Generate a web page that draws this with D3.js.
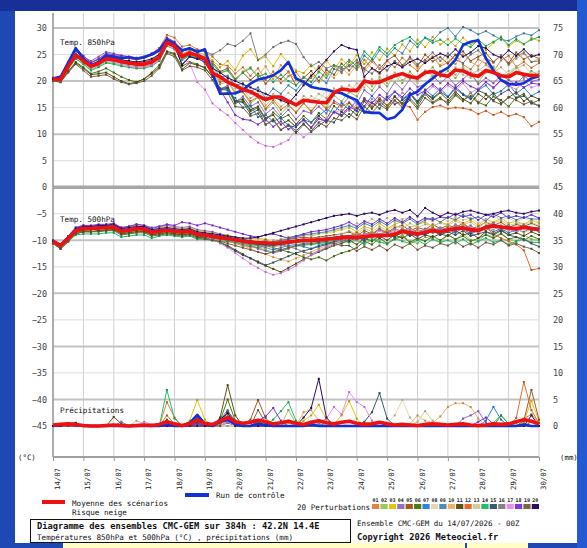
<!DOCTYPE html>
<html>
<head>
<meta charset="utf-8">
<script src="https://cdn.jsdelivr.net/npm/d3@7"></script>
<style>
  html, body { margin: 0; padding: 0; background: #1e48b4; }
  svg { display: block; }
  text { font-family: "DejaVu Sans Mono", monospace; }
</style>
</head>
<body>
<svg id="chart" width="587" height="548"></svg>
<script>
// ---- data (6-hourly steps, 0..384h) ----
const dayLabels = ["14/07","15/07","16/07","17/07","18/07","19/07","20/07","21/07","22/07",
                   "23/07","24/07","25/07","26/07","27/07","28/07","29/07","30/07"];
const leftTicks = [30,25,20,15,10,5,0,-5,-10,-15,-20,-25,-30,-35,-40,-45];
const rightTicks = [75,70,65,60,55,50,45,40,35,30,25,20,15,10,5,0];
const stepHours = d3.range(0, 385, 6);

const memberIds = ["01","02","03","04","05","06","07","08","09","10",
                   "11","12","13","14","15","16","17","18","19","20"];
const memberColors = ["#e0843c","#98c860","#e4c414","#9a6cc8","#a45a1c","#4e7c14","#2a84e0","#e2d9b2","#4a8eb8","#f0b468",
                      "#5a5418","#e46c2c","#d6ca96","#20c068","#3c5c6c","#848484","#e890f0","#8434e4","#7c6444","#2c0c64"];

const t850Mean = [
  20.4,20.3,22.8,24.9,23.8,22.8,23.3,24.2,24.0,23.7,23.4,23.2,23.2,
  23.6,24.5,27.3,26.6,24.6,25.3,24.8,24.2,21.5,20.8,19.8,19.2,18.4,
  18.0,17.2,16.5,17.0,17.0,16.2,15.5,16.4,16.2,16.0,15.9,17.8,18.5,
  18.3,18.2,20.0,19.7,19.8,20.4,21.0,21.4,20.8,20.6,21.6,21.8,21.2,
  20.9,22.1,21.9,21.2,20.9,22.0,21.6,21.0,20.8,21.6,21.3,21.0,21.1];
const t850Control = [
  20.5,20.8,23.5,26.2,24.2,23.0,23.6,24.8,24.6,24.3,24.5,24.2,24.5,
  25.0,25.8,27.8,27.0,25.8,26.2,25.5,26.0,21.5,17.6,17.6,17.7,18.3,
  19.5,20.3,20.6,21.1,22.0,23.6,20.5,19.8,18.9,18.6,18.4,18.0,17.7,
  17.0,16.4,14.2,14.0,14.0,12.8,13.2,14.6,17.4,18.0,19.4,20.5,21.7,
  22.5,24.0,26.8,27.4,27.7,24.3,22.0,20.2,19.5,19.3,19.6,20.5,20.9];
const t850Members = [
  [20.6,20.5,23.0,25.2,24.2,23.5,24.0,24.8,24.8,24.5,24.2,24.0,24.3,
   25.0,26.2,28.7,28.2,26.5,26.8,26.0,25.5,24.6,23.2,22.9,21.4,22.6,
   21.0,22.4,20.2,21.8,19.6,20.9,21.7,19.8,20.6,22.8,21.2,22.9,21.5,
   23.6,22.1,24.0,22.4,21.3,23.8,22.6,24.4,23.0,21.9,23.7,24.6,22.8,
   23.5,25.0,23.1,22.2,24.1,23.3,21.8,23.9,24.8,22.7,23.6,22.5,23.4],
  [20.2,20.0,22.2,24.2,23.2,22.2,22.8,23.6,23.4,23.0,22.6,22.4,22.5,
   23.0,24.0,26.8,26.0,24.0,24.8,24.3,23.6,21.8,19.4,19.9,17.6,17.9,
   15.8,16.9,14.6,15.9,13.8,15.3,14.2,15.9,14.1,16.2,15.0,17.3,16.2,
   18.0,17.1,19.6,18.2,20.3,19.0,21.1,19.6,21.8,20.2,21.4,22.6,20.8,
   21.9,20.6,22.4,21.0,19.8,21.7,22.6,20.9,21.3,22.8,20.6,21.9,21.0],
  [20.4,20.4,22.8,25.0,24.0,23.0,23.5,24.4,24.2,24.0,23.6,23.5,23.6,
   24.0,25.2,27.6,27.2,25.2,25.8,25.4,25.0,23.9,22.6,23.8,22.1,24.8,
   26.0,23.9,24.6,22.8,25.1,23.4,22.0,21.5,23.1,21.6,23.8,22.3,24.1,
   22.8,24.9,23.2,25.4,24.0,26.1,24.8,26.9,25.6,27.8,26.4,28.3,26.9,
   27.9,26.6,28.2,26.9,27.5,25.8,27.2,28.4,26.5,27.6,26.9,28.1,27.6],
  [20.5,20.8,23.4,25.8,24.6,23.8,24.6,25.5,25.2,24.8,24.6,24.3,24.6,
   25.2,26.0,27.6,27.0,25.0,25.4,24.8,23.2,21.6,18.4,19.2,16.0,17.1,
   15.2,16.0,13.8,14.9,13.2,14.6,12.8,14.4,13.9,15.2,13.9,16.3,15.4,
   17.0,15.8,18.3,17.2,18.9,17.6,19.8,18.4,20.3,18.9,19.4,21.0,19.6,
   20.8,19.2,20.4,21.6,19.4,20.6,19.6,21.1,20.2,19.3,21.0,19.9,20.3],
  [20.3,20.2,22.6,24.6,23.6,22.6,23.0,24.0,23.8,23.4,23.0,22.8,22.8,
   23.2,24.2,27.0,26.4,24.2,25.0,24.6,24.4,23.6,21.8,22.4,20.4,21.6,
   20.2,21.4,19.5,21.0,20.4,21.8,19.2,20.6,21.9,20.0,22.1,21.2,23.3,
   22.0,23.5,22.4,24.1,22.3,23.9,24.8,23.0,24.3,22.8,25.0,23.7,24.5,
   23.3,24.9,25.6,23.8,24.6,25.3,23.6,24.8,23.4,25.4,24.1,24.9,24.2],
  [20.0,19.8,21.8,23.6,22.6,21.4,21.8,22.4,21.6,20.8,20.2,19.8,20.4,
   21.4,22.6,25.4,25.0,22.8,23.6,23.2,22.4,20.8,18.2,18.6,15.8,16.3,
   14.3,15.0,12.6,14.1,12.9,13.6,11.9,13.4,12.2,14.0,12.8,15.3,14.2,
   15.9,14.3,16.8,15.0,16.2,14.9,17.2,15.6,16.8,15.2,17.6,16.0,16.9,
   15.6,17.3,16.2,17.8,16.0,15.4,17.1,16.4,15.2,16.9,17.6,15.8,16.4],
  [20.4,20.4,22.6,24.6,23.6,22.6,23.2,24.0,23.8,23.4,23.2,23.0,23.0,
   23.4,24.4,27.0,26.2,24.4,25.0,24.4,23.6,21.4,18.6,18.2,16.8,15.0,
   15.4,13.2,13.6,12.4,13.1,11.6,11.3,12.7,12.2,13.5,14.6,14.0,15.9,
   14.6,16.4,15.3,17.2,15.6,16.9,18.0,16.6,17.8,16.1,18.4,17.2,18.6,
   17.1,18.9,17.6,16.8,18.3,19.2,17.5,18.1,19.4,17.6,18.8,17.2,18.0],
  [20.3,20.2,22.6,24.8,23.8,22.8,23.2,24.0,23.8,23.6,23.2,23.0,23.0,
   23.4,24.2,26.8,26.2,24.4,25.0,24.6,24.0,22.6,20.6,20.2,18.6,19.0,
   17.6,18.2,16.4,17.6,16.2,17.8,16.6,15.8,17.2,16.4,18.2,17.6,19.0,
   17.8,19.6,18.8,20.4,19.2,21.0,19.8,21.4,20.2,19.6,21.8,20.6,21.9,
   21.0,22.6,21.2,20.6,22.3,21.6,22.8,21.0,21.9,22.7,21.3,20.8,21.4],
  [20.6,20.6,23.0,25.0,24.0,23.0,23.6,24.4,24.2,24.0,23.6,23.4,23.5,
   24.0,24.8,27.4,26.8,25.0,25.6,25.0,24.6,22.8,20.8,21.0,19.2,19.6,
   18.0,18.8,16.8,18.6,17.6,19.2,18.2,20.0,19.2,20.8,19.6,22.3,21.8,
   23.0,22.4,24.8,23.6,25.8,24.6,26.2,25.2,27.6,26.4,28.2,27.6,29.2,
   30.0,28.4,30.2,29.6,28.8,29.4,28.6,27.8,27.6,28.4,29.0,28.6,29.6],
  [20.4,20.3,22.8,25.0,24.0,23.0,23.4,24.2,24.0,23.8,23.4,23.2,23.3,
   23.8,24.8,27.8,27.0,25.0,25.6,25.0,24.6,23.4,21.4,22.0,20.0,21.8,
   22.6,21.0,22.8,20.4,23.0,21.6,20.2,19.4,21.2,19.8,21.6,20.6,22.4,
   21.2,23.0,21.8,23.6,22.4,22.0,23.8,22.6,24.2,22.4,23.4,24.6,23.0,
   24.4,23.2,25.0,23.6,22.8,24.5,23.4,24.9,23.0,24.2,25.1,23.6,24.2],
  [20.2,20.0,21.8,23.4,22.4,21.2,21.4,21.6,20.8,20.0,19.5,19.8,20.4,
   21.6,23.0,25.6,25.2,22.2,23.4,23.0,22.6,20.8,18.6,18.8,16.2,16.6,
   14.6,15.2,13.0,13.6,11.8,12.6,11.4,12.8,11.2,13.4,12.2,14.2,13.4,
   14.8,13.6,16.2,14.8,16.6,15.4,17.0,15.8,17.6,16.2,17.8,16.6,17.8,
   16.4,18.0,16.6,15.8,17.6,16.6,17.8,15.8,16.9,17.9,16.2,17.2,16.6],
  [20.3,20.2,22.6,24.6,23.6,22.6,23.2,24.0,23.8,23.4,23.0,22.8,22.8,
   23.2,24.2,27.0,26.4,24.6,25.2,24.6,24.0,22.4,19.8,20.2,17.8,18.0,
   16.2,17.0,14.8,16.4,14.6,15.6,14.0,15.8,14.4,16.0,14.8,15.9,15.2,
   16.0,14.8,16.6,15.2,16.8,15.4,16.2,15.6,15.1,12.7,14.2,15.1,15.4,
   14.8,15.0,14.9,14.6,13.8,14.4,13.6,14.2,13.4,13.8,13.2,11.5,12.3],
  [20.4,20.3,22.6,24.6,23.6,22.6,23.0,23.8,23.6,23.4,23.0,22.8,22.9,
   23.3,24.2,26.8,26.2,24.4,25.0,24.4,23.8,22.2,20.2,20.0,18.0,18.4,
   16.8,17.6,15.4,16.8,15.2,16.2,15.6,17.2,16.2,17.6,16.8,18.6,17.8,
   19.2,18.2,20.4,19.0,20.8,19.6,21.6,20.2,21.2,20.0,22.0,21.0,21.8,
   22.4,21.2,22.8,21.4,22.0,23.0,21.6,22.6,21.2,22.4,23.0,21.4,21.8],
  [20.2,20.0,22.4,24.2,23.2,22.0,22.6,23.4,23.2,22.8,22.6,22.4,22.4,
   22.8,23.8,26.6,26.0,24.0,24.8,24.4,24.0,23.2,21.6,22.0,20.2,21.6,
   22.4,20.8,21.4,19.8,21.2,20.0,19.2,20.8,19.8,21.8,20.6,23.0,22.6,
   24.0,22.8,25.6,24.2,26.4,25.2,26.8,27.6,28.3,27.0,28.1,27.2,27.8,
   26.8,28.0,27.0,26.4,27.8,26.6,27.4,28.2,26.8,27.9,27.0,27.8,28.3],
  [20.5,20.6,22.8,24.8,23.8,22.8,23.2,24.0,23.8,23.4,23.2,23.0,23.1,
   23.6,24.4,27.2,26.4,23.2,24.6,24.2,23.6,21.2,18.4,18.6,16.2,16.0,
   13.8,14.6,11.8,12.6,10.8,11.8,10.6,12.0,10.4,11.6,12.6,12.2,14.2,
   13.2,15.0,14.0,16.0,14.8,17.0,15.6,16.4,17.6,15.8,17.8,16.8,18.0,
   17.0,18.6,17.4,16.6,18.2,17.6,16.4,17.6,18.4,16.8,17.2,15.8,15.4],
  [20.6,20.8,23.4,25.6,24.6,23.6,24.2,25.0,24.8,24.6,24.4,24.2,24.4,
   25.0,25.8,28.0,27.4,25.6,26.2,25.8,25.6,25.0,25.8,27.0,26.6,27.6,
   29.0,24.0,25.0,26.4,27.2,27.6,27.0,24.5,22.8,23.6,22.4,23.0,22.2,
   22.8,24.0,22.2,21.4,23.0,22.0,23.8,22.6,24.6,23.2,24.0,25.4,23.8,
   25.2,24.0,23.4,25.0,25.8,24.2,23.6,24.8,23.2,24.6,25.4,23.6,23.8],
  [20.2,20.0,22.4,24.6,23.6,22.4,23.0,23.8,23.6,23.2,22.8,22.6,22.6,
   23.0,24.0,26.8,26.0,24.2,23.4,19.8,18.4,15.8,14.6,13.6,12.1,10.8,
   9.5,8.4,7.8,7.6,8.2,8.9,10.8,9.4,10.6,12.2,13.0,14.0,14.6,
   14.4,15.6,15.0,16.6,15.6,17.4,16.2,17.8,16.8,18.4,17.4,19.0,18.0,
   19.2,18.2,19.6,17.8,18.6,19.8,18.6,20.0,19.2,18.4,20.2,18.8,19.2],
  [20.6,20.9,23.6,26.2,24.8,23.4,24.2,25.2,25.0,24.8,24.6,24.4,24.6,
   25.2,26.2,28.2,27.4,25.6,26.0,25.4,24.2,21.0,18.4,16.0,13.6,12.8,
   12.6,11.8,12.8,11.4,12.4,10.9,11.8,12.6,11.2,12.9,12.4,14.2,13.6,
   15.2,14.4,16.6,15.8,17.4,16.4,18.0,17.0,18.6,17.4,18.2,19.4,18.2,
   19.6,18.6,20.0,19.0,18.4,19.8,18.8,20.2,19.0,19.8,18.8,19.6,19.4],
  [20.1,19.8,21.6,23.2,22.0,20.8,21.0,21.2,20.4,19.8,19.4,19.6,20.0,
   21.0,22.4,25.2,24.6,22.0,22.8,22.6,22.0,20.2,17.6,17.8,15.2,15.0,
   13.4,13.9,11.8,12.8,10.8,11.6,10.2,11.8,10.6,12.2,11.4,13.0,12.6,
   13.8,12.8,15.2,14.0,15.6,14.6,16.4,15.0,16.4,14.8,16.8,15.8,16.6,
   16.0,17.6,16.4,17.2,15.8,17.4,16.2,15.6,17.0,16.4,15.6,16.2,15.2],
  [20.4,20.4,22.8,25.0,24.0,23.0,23.6,24.6,24.4,24.0,23.8,23.6,23.8,
   24.2,25.0,27.6,26.8,23.0,24.6,24.2,24.2,22.4,21.6,20.6,20.0,19.4,
   18.8,18.2,17.6,17.0,16.4,15.8,17.4,19.2,21.0,22.4,24.0,25.6,26.8,
   26.2,25.9,20.8,22.4,21.6,22.8,23.4,22.6,23.6,24.2,23.4,24.4,25.2,
   24.6,26.0,24.6,25.4,26.6,26.2,25.0,24.4,25.8,24.8,26.0,24.6,25.0]
];

const t500Mean = [
  -10.2,-11.0,-9.6,-8.2,-7.8,-7.8,-7.7,-7.6,-7.5,-8.3,-8.1,-7.8,-7.9,
  -8.5,-8.3,-8.1,-8.3,-8.4,-8.3,-8.9,-9.0,-9.3,-9.5,-9.7,-9.9,-10.2,
  -10.4,-10.5,-10.5,-10.6,-10.5,-10.3,-10.2,-10.0,-10.0,-9.9,-9.8,-9.7,-9.5,
  -9.4,-9.5,-9.3,-9.2,-9.1,-9.1,-8.9,-8.3,-8.6,-8.8,-8.5,-8.2,-8.4,
  -8.1,-7.8,-7.7,-8.0,-8.1,-7.6,-7.3,-7.5,-7.7,-7.8,-7.6,-7.8,-8.0];
const t500Control = [
  -10.1,-10.9,-9.5,-8.1,-7.7,-7.7,-7.6,-7.5,-7.4,-8.2,-8.0,-7.7,-7.8,
  -8.4,-8.2,-8.0,-8.2,-8.3,-8.2,-8.8,-8.9,-9.2,-9.4,-9.6,-9.8,-10.1,
  -10.3,-10.6,-10.7,-10.8,-10.6,-10.4,-10.1,-9.9,-10.1,-10.0,-9.7,-9.6,-9.4,
  -9.3,-9.6,-9.4,-9.1,-9.0,-9.2,-8.8,-8.4,-8.5,-8.9,-8.6,-8.1,-8.3,
  -8.0,-7.9,-7.6,-8.1,-8.2,-7.5,-7.2,-7.6,-7.6,-7.9,-7.5,-7.7,-7.9];
const t500Members = [
  [-10.2,-11.2,-9.8,-8.4,-8.0,-8.0,-7.8,-7.8,-7.6,-8.4,-8.2,-8.0,-8.0,
   -8.6,-8.4,-8.2,-8.4,-8.6,-8.4,-9.0,-9.2,-9.6,-9.8,-10.2,-10.6,-11.0,
   -11.2,-11.0,-10.8,-11.2,-11.0,-10.6,-10.4,-10.2,-10.4,-10.0,-9.8,-9.6,-9.2,
   -9.2,-8.6,-9.6,-8.4,-8.9,-8.0,-8.7,-7.8,-8.6,-9.1,-8.0,-7.6,-8.5,
   -7.4,-8.2,-7.0,-7.9,-8.4,-7.2,-6.8,-7.8,-7.2,-8.1,-7.0,-7.7,-7.9],
  [-10.4,-11.2,-10.0,-8.6,-8.2,-8.4,-8.2,-8.0,-8.0,-8.8,-8.6,-8.4,-8.4,
   -9.0,-8.8,-8.6,-8.8,-9.0,-8.8,-9.4,-9.4,-9.8,-10.0,-10.2,-10.4,-10.8,
   -11.0,-11.4,-11.8,-12.2,-11.8,-11.4,-11.2,-11.0,-10.8,-10.6,-10.8,-10.4,-10.2,
   -10.4,-9.6,-10.6,-9.4,-10.2,-10.8,-9.6,-9.0,-10.2,-10.6,-9.4,-9.8,-10.4,
   -9.0,-9.8,-8.8,-9.9,-10.2,-8.8,-9.4,-8.6,-9.8,-10.2,-9.0,-9.8,-10.0],
  [-10.2,-11.0,-9.4,-7.8,-7.4,-7.4,-7.2,-7.0,-7.0,-7.8,-7.6,-7.2,-7.4,
   -8.0,-7.8,-7.2,-7.6,-7.8,-7.6,-8.2,-8.4,-8.6,-8.8,-9.0,-9.4,-9.6,
   -9.8,-9.6,-9.8,-10.2,-9.8,-9.4,-9.2,-9.0,-9.2,-8.8,-8.6,-8.4,-8.0,
   -7.6,-8.4,-7.4,-7.9,-6.8,-7.8,-7.0,-6.4,-7.6,-7.0,-6.6,-7.4,-6.6,
   -7.0,-6.0,-6.8,-6.2,-7.2,-6.0,-6.6,-5.8,-6.8,-6.4,-7.0,-6.2,-6.8],
  [-10.0,-10.8,-9.2,-7.6,-7.2,-7.4,-7.2,-7.2,-7.0,-7.6,-7.4,-7.0,-7.2,
   -7.6,-7.4,-7.2,-7.4,-7.6,-7.4,-8.0,-8.2,-8.4,-8.8,-9.2,-9.8,-10.4,
   -11.0,-11.6,-12.0,-12.4,-12.0,-11.6,-11.0,-10.6,-10.2,-10.4,-10.0,-9.6,-9.4,
   -9.6,-8.8,-9.8,-8.6,-9.2,-8.4,-9.4,-8.0,-8.9,-9.2,-8.0,-8.6,-8.2,
   -8.4,-7.4,-8.0,-8.8,-7.6,-8.2,-7.2,-8.4,-7.8,-8.6,-7.6,-8.2,-8.0],
  [-10.4,-11.4,-10.0,-8.4,-8.0,-8.0,-7.8,-7.8,-7.6,-8.4,-8.2,-7.8,-8.0,
   -8.6,-8.4,-8.2,-8.4,-8.6,-8.4,-9.0,-9.0,-9.2,-9.4,-9.6,-9.6,-9.8,
   -10.0,-10.2,-10.0,-10.2,-10.0,-9.8,-9.6,-9.4,-9.6,-9.4,-9.2,-9.0,-8.8,
   -8.4,-9.2,-8.2,-8.8,-7.8,-8.6,-7.6,-7.2,-8.2,-7.6,-8.0,-7.0,-7.8,
   -7.2,-7.6,-6.8,-7.8,-7.4,-6.6,-7.2,-6.6,-7.6,-7.0,-7.4,-6.8,-7.4],
  [-10.6,-11.6,-10.2,-8.6,-8.2,-8.4,-8.2,-8.0,-8.0,-8.6,-8.4,-8.2,-8.4,
   -8.8,-8.6,-8.4,-8.6,-8.8,-8.6,-9.2,-9.4,-9.6,-9.8,-10.0,-10.2,-10.4,
   -10.6,-10.8,-11.0,-11.4,-11.8,-12.2,-12.6,-13.2,-13.6,-13.2,-13.8,-13.0,-12.4,
   -12.0,-11.4,-10.2,-10.8,-9.6,-10.6,-9.8,-9.2,-10.4,-9.6,-10.2,-9.2,-10.0,
   -9.0,-9.8,-9.2,-10.2,-9.6,-9.0,-9.6,-8.8,-9.8,-9.4,-10.0,-9.2,-9.8],
  [-10.2,-11.0,-9.6,-8.0,-7.6,-7.6,-7.4,-7.4,-7.2,-8.0,-7.8,-7.6,-7.6,
   -8.2,-8.0,-7.8,-8.0,-8.2,-8.0,-8.6,-8.8,-9.0,-9.2,-9.4,-9.8,-10.2,
   -10.6,-11.0,-11.4,-11.8,-11.4,-11.0,-10.8,-11.2,-11.6,-11.0,-10.6,-10.2,-9.8,
   -9.8,-9.2,-10.2,-9.0,-9.6,-8.8,-9.4,-8.2,-9.2,-8.6,-8.8,-8.0,-8.9,
   -8.0,-8.6,-7.6,-8.8,-8.2,-7.6,-8.4,-7.8,-8.6,-8.0,-8.4,-7.8,-8.4],
  [-10.2,-11.0,-9.6,-8.0,-7.6,-7.6,-7.4,-7.4,-7.2,-8.0,-7.8,-7.6,-7.6,
   -8.2,-8.0,-7.8,-8.0,-8.2,-8.0,-8.6,-8.6,-8.8,-9.0,-9.2,-9.4,-9.6,
   -9.8,-10.0,-10.2,-10.0,-9.8,-9.6,-9.4,-9.2,-9.0,-8.8,-8.6,-8.2,-7.8,
   -7.6,-6.8,-7.0,-6.0,-6.8,-5.8,-6.6,-6.0,-5.6,-6.8,-5.8,-6.4,-5.6,
   -6.4,-5.6,-6.2,-5.8,-6.8,-6.0,-5.4,-6.2,-5.8,-6.6,-5.8,-6.4,-6.4],
  [-10.4,-11.2,-9.8,-8.2,-7.8,-7.8,-7.6,-7.6,-7.4,-8.2,-8.0,-7.8,-7.8,
   -8.4,-8.2,-8.0,-8.2,-8.4,-8.2,-8.8,-9.0,-9.2,-9.4,-9.6,-9.8,-10.0,
   -10.2,-10.4,-10.6,-10.4,-10.0,-9.8,-9.4,-9.0,-8.8,-8.6,-8.4,-8.0,-7.6,
   -7.2,-7.8,-6.8,-7.4,-6.4,-7.2,-6.2,-6.8,-6.0,-7.0,-6.2,-5.8,-6.6,
   -5.6,-6.2,-5.2,-6.0,-5.6,-6.4,-5.0,-5.8,-5.4,-6.2,-5.6,-6.0,-6.0],
  [-10.2,-11.0,-9.6,-8.2,-7.8,-7.8,-7.6,-7.4,-7.4,-8.2,-8.0,-7.8,-7.8,
   -8.4,-8.2,-8.0,-8.2,-8.4,-8.2,-8.8,-9.0,-9.2,-9.6,-10.0,-10.4,-11.0,
   -11.6,-12.2,-12.6,-13.2,-13.6,-14.0,-13.4,-12.8,-12.2,-11.6,-11.0,-10.4,-10.0,
   -9.8,-9.2,-9.8,-8.6,-9.4,-8.8,-8.4,-9.2,-8.0,-8.8,-8.4,-7.8,-8.6,
   -8.2,-7.4,-8.4,-7.8,-8.8,-7.6,-8.0,-7.2,-8.2,-7.8,-8.6,-7.8,-8.2],
  [-10.6,-11.6,-10.2,-8.8,-8.4,-8.4,-8.2,-8.2,-8.0,-8.8,-8.6,-8.4,-8.4,
   -9.0,-8.8,-8.6,-8.8,-9.0,-8.8,-9.4,-9.6,-10.0,-10.4,-11.0,-11.8,-12.6,
   -13.4,-14.2,-14.8,-15.4,-16.0,-15.2,-14.4,-13.6,-12.8,-12.2,-11.6,-11.0,-10.6,
   -10.0,-10.8,-9.6,-10.2,-9.2,-10.0,-9.0,-9.6,-8.8,-9.8,-9.0,-9.4,-8.8,
   -9.2,-8.2,-9.0,-8.6,-9.6,-8.4,-8.8,-8.0,-9.0,-8.6,-9.2,-8.4,-9.0],
  [-10.2,-11.2,-9.8,-8.4,-8.0,-8.0,-7.8,-7.8,-7.6,-8.4,-8.2,-7.8,-8.0,
   -8.6,-8.4,-8.2,-8.4,-8.6,-8.4,-9.0,-9.2,-9.4,-9.6,-9.8,-10.0,-10.2,
   -10.4,-10.6,-10.8,-11.0,-10.8,-10.6,-10.4,-10.2,-10.0,-9.8,-9.6,-9.4,-9.2,
   -9.4,-8.6,-9.2,-8.4,-9.0,-8.2,-8.8,-7.8,-8.6,-8.0,-8.4,-7.6,-8.4,
   -7.6,-8.2,-7.4,-8.4,-8.0,-7.6,-8.8,-9.6,-10.2,-10.8,-11.9,-15.6,-15.3],
  [-10.4,-11.2,-9.8,-8.2,-7.8,-7.8,-7.6,-7.4,-7.4,-8.0,-7.8,-7.6,-7.6,
   -8.2,-8.0,-7.8,-8.0,-8.2,-8.0,-8.6,-8.8,-9.0,-9.2,-9.6,-10.0,-10.4,
   -10.8,-11.2,-11.6,-11.2,-10.8,-10.4,-10.2,-10.0,-9.8,-9.6,-9.4,-9.2,-8.8,
   -8.2,-8.8,-7.8,-8.4,-7.4,-8.2,-7.2,-7.8,-6.8,-7.6,-7.0,-7.2,-6.8,
   -7.2,-6.4,-7.0,-6.6,-7.6,-6.6,-6.8,-6.2,-7.2,-6.8,-7.0,-6.6,-7.2],
  [-10.6,-11.4,-10.2,-9.0,-8.8,-8.8,-8.8,-8.6,-8.6,-9.4,-9.2,-9.0,-9.0,
   -9.6,-9.2,-9.0,-9.2,-9.4,-9.2,-9.8,-9.8,-10.0,-10.2,-10.2,-10.4,-10.6,
   -10.8,-11.0,-10.8,-11.0,-10.8,-10.6,-10.4,-10.6,-10.8,-10.6,-10.4,-10.2,-10.0,
   -10.4,-10.0,-10.8,-9.8,-10.4,-10.6,-9.6,-10.2,-10.6,-10.0,-10.8,-9.8,-10.4,
   -10.0,-10.6,-9.8,-10.8,-10.2,-9.6,-10.4,-10.0,-10.8,-10.2,-9.8,-10.4,-10.4],
  [-10.4,-11.2,-9.8,-8.4,-8.0,-8.0,-7.8,-7.8,-7.6,-8.4,-8.2,-8.0,-8.0,
   -8.6,-8.4,-8.2,-8.4,-8.6,-8.4,-9.0,-9.4,-9.8,-10.4,-11.2,-12.0,-12.8,
   -13.4,-14.0,-14.7,-14.2,-13.6,-13.0,-12.4,-12.0,-11.6,-11.2,-10.8,-10.4,-10.0,
   -10.2,-9.4,-10.0,-9.0,-9.6,-8.8,-9.4,-8.4,-9.2,-8.6,-9.0,-8.2,-9.0,
   -8.4,-9.0,-8.2,-9.2,-8.8,-8.4,-9.0,-8.2,-9.0,-9.4,-9.8,-10.6,-11.2],
  [-10.2,-11.0,-9.6,-8.0,-7.6,-7.6,-7.4,-7.4,-7.2,-8.0,-7.8,-7.6,-7.6,
   -8.2,-8.0,-7.8,-8.0,-8.2,-8.0,-8.6,-8.8,-9.2,-9.6,-10.0,-10.4,-10.8,
   -11.2,-11.4,-11.0,-10.6,-10.8,-11.2,-11.6,-12.2,-12.6,-12.0,-11.4,-10.8,-10.2,
   -9.6,-9.8,-8.6,-9.0,-8.0,-8.8,-7.8,-8.4,-7.6,-8.6,-7.8,-8.2,-7.6,
   -8.0,-7.0,-7.8,-7.2,-8.2,-7.4,-6.8,-7.6,-7.2,-8.0,-7.2,-7.8,-7.8],
  [-10.2,-11.0,-9.6,-8.0,-7.6,-7.6,-7.4,-7.4,-7.2,-8.0,-7.8,-7.6,-7.6,
   -8.2,-8.0,-7.8,-8.0,-8.2,-8.0,-8.8,-9.2,-9.8,-10.6,-11.4,-12.4,-13.4,
   -14.4,-15.2,-16.0,-16.5,-16.2,-15.6,-14.8,-13.8,-12.8,-12.0,-11.2,-10.6,-10.0,
   -9.2,-10.0,-8.8,-9.4,-8.2,-9.0,-8.0,-8.6,-7.8,-8.8,-8.0,-8.4,-7.8,
   -8.2,-7.2,-8.0,-7.4,-8.4,-7.6,-7.0,-7.8,-7.4,-8.2,-7.4,-7.8,-8.0],
  [-10.0,-10.8,-9.2,-7.6,-7.2,-7.2,-7.0,-7.0,-6.8,-7.6,-7.4,-7.0,-7.2,
   -7.8,-7.4,-7.0,-7.2,-6.6,-6.8,-7.2,-6.8,-7.2,-7.6,-8.0,-8.4,-8.8,
   -9.2,-9.4,-9.0,-8.8,-9.2,-9.6,-9.2,-8.8,-8.4,-8.2,-8.0,-7.6,-7.2,
   -6.6,-7.4,-6.4,-7.0,-6.0,-6.8,-5.8,-6.6,-5.6,-6.6,-5.8,-6.2,-5.6,
   -5.8,-5.0,-5.6,-5.2,-6.2,-5.2,-5.6,-4.8,-5.8,-5.4,-5.8,-5.2,-5.8],
  [-10.6,-11.6,-10.2,-8.8,-8.4,-8.4,-8.4,-8.2,-8.2,-9.0,-8.8,-8.6,-8.6,
   -9.2,-9.0,-8.8,-9.0,-9.2,-9.0,-9.6,-9.8,-10.0,-10.2,-10.6,-11.0,-11.4,
   -11.8,-12.2,-12.6,-12.2,-11.8,-11.4,-11.0,-10.8,-10.6,-10.4,-10.2,-10.6,-11.0,
   -11.0,-12.0,-11.2,-11.8,-11.0,-11.9,-10.8,-11.4,-10.6,-11.8,-11.0,-11.4,-10.6,
   -11.0,-10.2,-11.2,-10.6,-11.4,-10.4,-10.8,-10.0,-11.0,-10.6,-11.2,-11.6,-12.4],
  [-10.2,-11.0,-9.4,-7.8,-7.4,-7.4,-7.2,-7.2,-7.0,-7.8,-7.6,-7.4,-7.4,
   -8.0,-7.8,-7.6,-7.8,-8.0,-7.8,-8.4,-8.6,-8.8,-9.0,-9.2,-9.4,-9.6,
   -9.6,-9.4,-9.0,-8.6,-8.2,-7.8,-7.4,-7.0,-6.6,-6.2,-5.8,-5.4,-5.2,
   -5.0,-5.4,-5.0,-4.8,-5.2,-4.6,-4.3,-4.8,-4.3,-5.5,-3.9,-4.8,-5.5,
   -4.8,-5.2,-4.6,-4.4,-4.8,-5.2,-5.0,-4.6,-4.4,-4.8,-5.0,-4.6,-4.4]
];

const precipMean = [
  0.2,0.3,0.4,0.3,0.1,0,0,0.1,0.2,0.1,0,0.1,0.2,
  0.1,0.3,0.8,0.4,0.1,0.4,1.1,0.5,0.3,0.9,1.6,0.8,0.5,
  0.7,1.1,0.8,0.4,0.6,0.9,0.5,0.3,0.7,1.0,0.6,0.4,0.7,
  0.9,0.5,0.3,0.4,0.7,0.4,0.2,0.3,0.2,0.1,0.3,0.4,0.3,
  0.2,0.3,0.4,0.2,0.1,0.2,0.4,0.3,0.4,0.8,1.2,0.9,0.4];
const precipControl = [
  0,0.2,0.4,0.2,0,0,0,0,0,0,0,0,0,
  0,0,0.3,0,0,0.6,2.1,0.4,0,0.8,1.2,0.3,0,
  0,0.4,0.2,0,0,0,0,0,0.3,0,0,0,0,
  0,0,0,0,0,0,0,0,0,0,0,0,0,
  0,0,0,0,0,0,0,0,0,0,0.3,0,0];
const precipMembers = [
  [0,0.3,0.4,0.2,0,0,0,0,0,0,0,0,0, 0,0,4.5,1.6,0,0,0.5,0,0,0.6,1.2,0.4,0,
   0,0.6,0,0,0,1.0,0,0,0.5,0,0,0,0, 0,0,0,0,0,0,0,0,0,0,0,0,0.4, 0,0,0,0,0,0,0,0,0,0.5,1.4,2.2,0.6],
  [0,0,0.2,0.4,0,0,0,0,0,0,0,0,0, 0,0,1.0,0.3,0,0,1.2,0,0,0.4,2.0,0.6,0,
   0,0.8,0.4,0,0,3.0,0.5,0,0,0.4,0,0,0, 0,0,0.6,0,0,0,0,0,0,0,0,0,0, 0,0,0,0,0,0,0,0,0,0,0.6,0,0],
  [0,0,0,0,0,0,0,0,0,0,0,0,0, 0,0,0.6,0,0,1.0,4.9,1.2,0,0.5,1.4,0.2,0,
   0,0.5,0,0,0,0.6,0,1.0,2.0,4.0,1.2,0.4,2.0, 4.7,1.4,0,0,0,0.5,0,0,0,0,0,0,0, 0,0,0,0,0,0,0,0,0,0,0.8,4.7,1.0],
  [0,0,0,0,0,0,0,0,0,0.8,0,0,0, 0,0,0.5,0,0,0,0.8,0.2,0,1.5,1.0,0,0,
   0,0,0,0,0,0,0,0,0,0,0,0,0, 0,0,0,0,0,0,0,0,0,0,0,0,0, 0,0,1.4,2.0,2.8,0.6,0,0,0,0,0,0,0],
  [0,0,0,0,0,0,0,0,0,0,0,0,0, 0,0,0.8,0.2,0,0,1.6,0.4,0,0.8,2.4,0.6,0.3,
   1.2,4.9,1.5,0,0,0,0,0,0,0,0,0,0, 0,0,0,0,0,0,0,0,0,0,0,0,0, 0,0,0,0,0,0,0,0,0,0,1.0,6.8,1.2],
  [0,0,0,0,0,0,0,0,0,0,0,0,0, 0,0,1.2,0,0,0,0.5,0,0,1.0,5.0,1.0,0,
   0,0.8,0,0,0,0,0,0,0.4,0,0,0,0, 0,0,0,0,0,0,0,0,0,0,0,0,0, 0,0,0,0,0,0,0,2.0,0.4,0,0,0,0],
  [0,0,0,0,0,0,0,0,0,0,0,0,0, 0,0,0,0,0,0,0.8,0,0,0,0.6,0,0,
   0,0,0,0,0,0,0,0,0,0,0,0,0, 0,0,0,0,0,0,0,0,0,0,0,0,0, 0,0,0,0,0,1.0,3.6,1.2,0,0,0,0,0],
  [0,0,0,0,0,0,0,0,0,0,0,0,0, 0,0,0,0,0,0,0,0,0,0,0,0,0,
   0,0,0,0,0,0,0,0,0,0,0,0,0.6, 0,0,0,0,0,0.5,2.0,4.9,1.6,0,0,0,0, 0,0,0,0,0,0,0,0,0,0,0,0,0],
  [0,0,0,0,0,0,0,0,0,0,0,0,0, 0,0,0.8,0,0,0,0.4,0,0,1.2,3.0,0.5,0,
   0,0,0,0,0,0,0,0,0,0.5,0,0,0, 0,0,0,0,0,0,0,0,0,0,0,0,0, 0,0,0,0,0,0,0,0,0,0,0,0,0],
  [0,0,0,0,0,0,0,0,0,0,0,0,0, 0,0,0,0,0,0,0,0,0,0,0,0,0,
   0,0,0,0,0,0,0,2.6,3.0,1.0,0,0,0, 0,0,0,0,0,0,0,0,0.4,2.0,1.0,0.6,1.8, 3.6,4.3,4.3,3.6,1.4,0,0,0,0,0,0,0,0],
  [0,0,0,0,0,0,0,0,1.7,0.4,0,0,0, 0,0,0,0,0,0,0,0,0,1.6,7.7,2.0,0,
   0,0,0,0,0,0,0,0,0,0,0,0,0, 0,0,0,0,0,0,0,0,0,0,0,0,0, 0,0,0,0,0,0,0,0,0,0,0,0,0],
  [0,0,0,0,0,0,0,0,0,0,0,0,0, 0,0,2.0,0.4,0,0,0,0,0,0.5,1.0,0,0,
   0,0,0,0,0,0,0,0,0,0,0,0,0, 0,0,0,0,0,0,0,0,0,0,0,0,0, 0,0,0,0,0,0,0,0,0,1.5,8.3,3.0,0.5],
  [0,0,0,0,0,0,0,0,0,0,0,1.0,0.4, 0,0,0,0,0,0,0,0,0,0,0,0,0,
   0,0,0,0,0,0,0,0,0,0,0,0,0, 0,0,0,0,0,0,0,0,0,0.8,2.8,1.0,0, 0,0,0,0,0,0,0,0,0,0,0,0,0],
  [0,0,0,0,0,0,0,0,0,0,0,0,0, 0,0,6.8,1.4,0,0,0.4,0,0,0.6,1.5,0.4,0,
   0,0,0,1.2,2.8,4.5,1.0,0,0,0,0,0,0, 0,0,0,0,0,0,0,0,0,0,0,0,0, 0,0,0,0,0,0,0.6,2.0,0.4,0,0,0,0],
  [0,0,0.3,0.5,0,0,0,0,0,0,0,0,0, 0,0,0,0,0,0,0.6,0,0,0.8,1.4,0,0,
   0,0,0,0,0,0,0,0,0,0,0,0,0, 0,0,0.8,2.6,6.2,1.4,0,0,0,0,0,0,0, 0,0,0,0,0,0,0,0,0,0,0,0,0],
  [0,0,0,0,0,0,0,0,0,0,0,0,0, 0,0,0.5,0,0,0,0,0,0,0,1.0,0.4,0,
   0,0,0,0,0,0,0,0,0.8,0,0,0,0, 0,0,0,0,0,0,0,0,0,0,0,0,0, 0,0,0,0,0,0,0,0,0,0,0,0,0],
  [0,0,0,0,0,0,0,0,0,0,0,0,0.8, 0.3,0,0,0,0,0,0,0,0,0,0.8,0,0,
   0,0,0,0,0,0,0,0,0,0.6,1.4,3.6,2.2, 6.4,4.5,3.6,1.0,0,0,0,0,0,0,0,0,0, 0,0,0,0,0,0,0,0,0,0,0,0,0],
  [0,0,0,0,0,0,0,0,0,0,0,0,0, 0,0,0,0,0,0,0.4,0,0,1.0,2.6,0.6,0,
   0,1.0,1.8,3.4,1.0,0,0,0,0,0,0,0,0, 0,0,0,0,0,0,0,0,0,0,0,0,0, 0,0,0,0,0.8,1.6,0.4,0,0,0,0,0,0],
  [0,0,0,0,0,0,0,0,0,0,0,0,0, 0,0,0,0,0,0,1.8,0.4,0,0,2.8,1.0,0,
   0,3.0,0.6,0,0,0,0,0,0,0,0,0,0, 0,0,0,0,0,0,0,0,0,0,0,0,0, 0,0,0,0,0,0,0,0,0,0,0,0.8,0],
  [0,0,0.4,0.6,0,0,0,0,0,0,0,0,0, 0,0,0,0,0,0,0,0,0,1.2,2.4,0,0,
   0,0,0,0,0,0,0,1.6,3.4,8.9,1.6,0,0, 0,0,0,0,0,0,0,0,0,0,0,0,0, 0,0,0,0,0,0,0,0,0,0,0,2.0,0]
];

// ---- layout ----
const svg = d3.select("#chart");
const x = d3.scaleLinear().domain([0, 384]).range([53, 539]);
const y = d3.scaleLinear().domain([30, -45]).range([28, 426]);      // °C
const yR = d3.scaleLinear().domain([75, 0]).range([28, 426]);       // mm
const plotTop = 13, plotBottom = 457;
const dayHours = dayLabels.map((d, i) => i * 24);

// page frame
svg.append("rect").attr("width", 587).attr("height", 548).attr("fill", "#1e48b4");
svg.append("rect").attr("width", 587).attr("height", 11).attr("fill", "#172f96");
svg.append("rect").attr("x", 577).attr("width", 10).attr("height", 548).attr("fill", "#2459d2");
svg.append("rect").attr("x", 15).attr("y", 11).attr("width", 562).attr("height", 532).attr("fill", "#fff");
svg.append("rect").attr("x", 63).attr("y", 543).attr("width", 402).attr("height", 5).attr("fill", "#ffffc4");
svg.append("rect").attr("x", 467).attr("y", 543).attr("width", 61).attr("height", 5).attr("fill", "#ffffc4");

// grid
const grid = svg.append("g");
grid.selectAll("line.v").data(dayHours).join("line").attr("class", "v")
  .attr("x1", d => x(d)).attr("x2", d => x(d))
  .attr("y1", plotTop).attr("y2", plotBottom)
  .attr("stroke", "#d0d0d0").attr("stroke-width", 1);
grid.selectAll("line.h").data(leftTicks).join("line").attr("class", "h")
  .attr("x1", x(0)).attr("x2", x(384))
  .attr("y1", d => y(d)).attr("y2", d => y(d))
  .attr("stroke", d => d === 0 ? "#a8a8a8" : (d % 10 === 0 ? "#c2c2c2" : "#dddddd"))
  .attr("stroke-width", d => d === 0 ? 3.5 : (d % 10 === 0 ? 2 : 1));
grid.append("line").attr("x1", x(0)).attr("x2", x(0)).attr("y1", plotTop).attr("y2", plotBottom)
  .attr("stroke", "#9a9a9a").attr("stroke-width", 1.5);
grid.append("line").attr("x1", x(0)).attr("x2", x(384)).attr("y1", plotBottom).attr("y2", plotBottom)
  .attr("stroke", "#a0a0a0").attr("stroke-width", 2);

// axes
const axL = svg.append("g").attr("transform", "translate(" + x(0) + ",0)")
  .call(d3.axisLeft(y).tickValues(leftTicks).tickSize(0).tickPadding(6));
const axR = svg.append("g").attr("transform", "translate(" + x(384) + ",0)")
  .call(d3.axisRight(yR).tickValues(rightTicks).tickSize(0).tickPadding(14));
[axL, axR].forEach(a => {
  a.select(".domain").remove();
  a.selectAll("text").attr("font-family", "Liberation Sans, Arial, sans-serif")
    .attr("font-size", 8.5).attr("fill", "#444");
});
const axB = svg.append("g").attr("transform", "translate(0," + plotBottom + ")")
  .call(d3.axisBottom(x).tickValues(dayHours).tickFormat((d, i) => dayLabels[i]).tickSize(4));
axB.select(".domain").remove();
axB.selectAll("line").attr("stroke", "#999");
axB.selectAll("text")
  .attr("transform", "rotate(-90)")
  .attr("text-anchor", "end")
  .attr("x", -11).attr("y", 4).attr("dy", "0.35em")
  .attr("font-family", "DejaVu Sans Mono, monospace")
  .attr("font-size", 7.3).attr("fill", "#222");

// series
function drawSet(members, control, mean, scale) {
  const line = d3.line().x((d, i) => x(stepHours[i])).y(d => scale(d));
  const g = svg.append("g");
  members.forEach((m, k) => {
    g.append("path").attr("d", line(m)).attr("fill", "none")
      .attr("stroke", memberColors[k]).attr("stroke-width", 1);
  });
  members.forEach((m, k) => {
    const dark = d3.color(memberColors[k]).darker(0.7);
    g.append("g").selectAll("rect").data(m).join("rect")
      .attr("x", (d, i) => x(stepHours[i]) - 1).attr("y", d => scale(d) - 1)
      .attr("width", 2).attr("height", 2).attr("fill", dark);
  });
  g.append("path").attr("d", line(control)).attr("fill", "none")
    .attr("stroke", "#1030d8").attr("stroke-width", 2.6).attr("stroke-linejoin", "round");
  g.append("path").attr("d", line(mean)).attr("fill", "none")
    .attr("stroke", "#ee1111").attr("stroke-width", 3.6).attr("stroke-linejoin", "round");
}
drawSet(t850Members, t850Control, t850Mean, y);
drawSet(t500Members, t500Control, t500Mean, y);
drawSet(precipMembers, precipControl, precipMean, yR);

// labels
const mono = (sel) => sel.attr("font-family", "DejaVu Sans Mono, monospace").attr("fill", "#111");
mono(svg.append("text").attr("x", 60).attr("y", 45).attr("font-size", 7.6).text("Temp. 850hPa"));
mono(svg.append("text").attr("x", 60).attr("y", 222).attr("font-size", 7.6).text("Temp. 500hPa"));
mono(svg.append("text").attr("x", 60).attr("y", 413).attr("font-size", 7.6).text("Précipitations"));
mono(svg.append("text").attr("x", 18).attr("y", 460).attr("font-size", 7.4).text("(°C)"));
mono(svg.append("text").attr("x", 560).attr("y", 460).attr("font-size", 7.4).text("(mm)"));

// legend
svg.append("line").attr("x1", 42).attr("x2", 65).attr("y1", 502).attr("y2", 502)
  .attr("stroke", "#ee1111").attr("stroke-width", 4);
mono(svg.append("text").attr("x", 72).attr("y", 505.5).attr("font-size", 7.6).text("Moyenne des scénarios"));
mono(svg.append("text").attr("x", 72).attr("y", 515).attr("font-size", 7.6).text("Risque neige"));
svg.append("line").attr("x1", 185).attr("x2", 209).attr("y1", 495).attr("y2", 495)
  .attr("stroke", "#1030d8").attr("stroke-width", 4);
mono(svg.append("text").attr("x", 216).attr("y", 498).attr("font-size", 7.6).text("Run de contrôle"));
mono(svg.append("text").attr("x", 297).attr("y", 510).attr("font-size", 7.6).text("20 Perturbations"));

const sw = d3.scaleBand().domain(memberIds).range([372, 539]).paddingInner(0.14);
svg.append("g").selectAll("rect").data(memberIds).join("rect")
  .attr("x", d => sw(d)).attr("y", 504).attr("width", sw.bandwidth()).attr("height", 5)
  .attr("fill", (d, i) => memberColors[i]);
svg.append("g").selectAll("text").data(memberIds).join("text")
  .attr("x", d => sw(d) + sw.bandwidth() / 2).attr("y", 502)
  .attr("text-anchor", "middle").attr("font-size", 5).attr("font-weight", "bold")
  .attr("font-family", "DejaVu Sans Mono, monospace").attr("fill", "#222")
  .text(d => d);

// title box
svg.append("rect").attr("x", 30.5).attr("y", 519.5).attr("width", 320).attr("height", 23)
  .attr("fill", "#fff").attr("stroke", "#111").attr("stroke-width", 1);
mono(svg.append("text").attr("x", 37).attr("y", 529).attr("font-size", 8.7).attr("font-weight", "bold")
  .text("Diagramme des ensembles CMC-GEM sur 384h : 42.2N 14.4E"));
mono(svg.append("text").attr("x", 37).attr("y", 540).attr("font-size", 7.6)
  .text("Températures 850hPa et 500hPa (°C) , précipitations (mm)"));
mono(svg.append("text").attr("x", 357).attr("y", 526).attr("font-size", 7.5)
  .text("Ensemble CMC-GEM du 14/07/2026 - 00Z"));
mono(svg.append("text").attr("x", 357).attr("y", 540).attr("font-size", 8.7).attr("font-weight", "bold")
  .text("Copyright 2026 Meteociel.fr"));
</script>
</body>
</html>
